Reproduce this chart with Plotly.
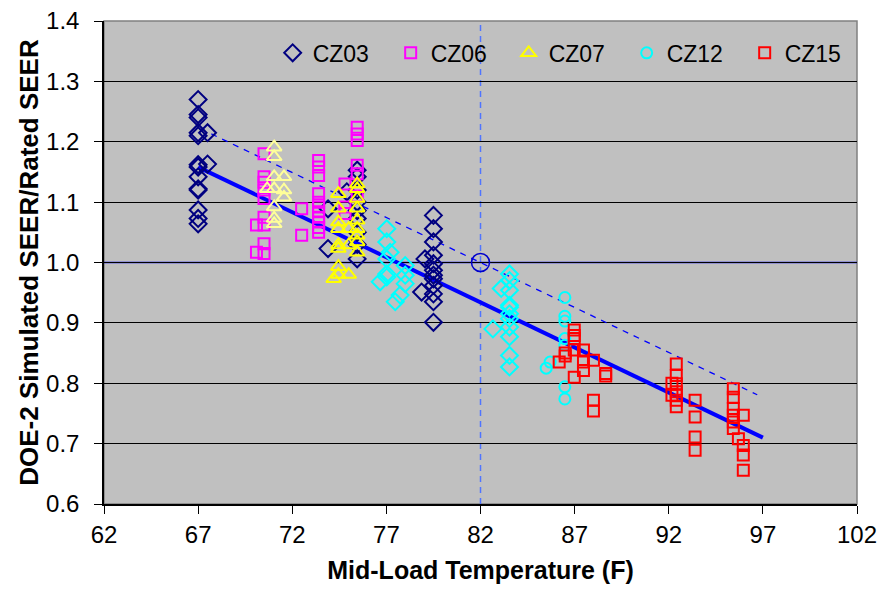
import plotly.graph_objects as go

# ---- data ----
cz03_x = [67]*13 + [67.5]*2 + [73.9]*2 + [74.9] + [75.45]*9 + [79.5]*12 + [79.05, 78.87]
cz03_y = [1.270, 1.245, 1.240, 1.215, 1.210, 1.162, 1.158, 1.142, 1.122, 1.120, 1.087, 1.073, 1.064,
          1.215, 1.163,
          1.089, 1.023,
          1.117,
          1.153, 1.142, 1.120, 1.100, 1.086, 1.073, 1.050, 1.030, 1.006,
          1.078, 1.056, 1.034, 1.012, 0.998, 0.987, 0.979, 0.973, 0.962, 0.948, 0.935, 0.901,
          1.006, 0.951]

cz06_x = [70.1]*2 + [70.5]*9 + [72.5]*2 + [73.4]*11 + [74.8]*3 + [75.45]*6
cz06_y = [1.062, 1.017,
          1.180, 1.142, 1.133, 1.120, 1.106, 1.075, 1.062, 1.031, 1.015,
          1.089, 1.045,
          1.169, 1.158, 1.144, 1.114, 1.100, 1.092, 1.084, 1.075, 1.067, 1.058, 1.050,
          1.130, 1.092, 1.081,
          1.224, 1.213, 1.202, 1.161, 1.147, 1.110]

cz07_x = [74.2] + [74.45]*8 + [75.0]*3 + [75.45]*9
cz07_y = [0.973,
          1.114, 1.090, 1.067, 1.056, 1.029, 1.023, 0.993, 0.980,
          1.056, 1.029, 0.980,
          1.130, 1.122, 1.106, 1.090, 1.070, 1.056, 1.045, 1.034, 1.017]

cz07b_x = [71.04]*7 + [71.56]*3 + [70.67]
cz07b_y = [1.191, 1.175, 1.142, 1.122, 1.092, 1.073, 1.064,
           1.142, 1.120, 1.108,
           1.122]

cz12d_x = [77.02]*5 + [77.2, 76.67] + [78.0]*3 + [77.73, 77.47] + [83.54]*11 + [83.1, 82.66]
cz12d_y = [1.056, 1.034, 1.006, 0.981, 0.976,
           1.017, 0.968,
           0.995, 0.979, 0.965,
           0.946, 0.935,
           0.981, 0.970, 0.954, 0.929, 0.926, 0.915, 0.907, 0.893, 0.877, 0.846, 0.827,
           0.957, 0.890]

cz12_x = [86.48]*7 + [85.49, 85.7]
cz12_y = [0.942, 0.911, 0.903, 0.874, 0.863, 0.794, 0.774, 0.825, 0.835]

cz15_x = ([86.98]*5 + [86.18] + [86.5]*2 + [87.47]*3 + [88.0]*3 + [88.65]*2 +
          [92.4]*7 + [92.17]*2 + [93.4]*4 + [95.43]*6 + [95.96]*4 + [95.7])
cz15_y = [0.888, 0.879, 0.874, 0.855, 0.810,
          0.835,
          0.850, 0.845,
          0.855, 0.835, 0.821,
          0.838, 0.772, 0.754,
          0.816, 0.812,
          0.832, 0.813, 0.799, 0.786, 0.780, 0.772, 0.761,
          0.800, 0.780,
          0.772, 0.744, 0.711, 0.689,
          0.791, 0.777, 0.758, 0.747, 0.736, 0.725,
          0.747, 0.697, 0.681, 0.656,
          0.708]

trend_x = [67.0, 97.0]
trend_y = [1.158, 0.710]
shift_x = [67.7, 96.7]
shift_y = [1.213, 0.781]
ref_x = [82]
ref_y = [1.0]

x_ticks = [62, 67, 72, 77, 82, 87, 92, 97, 102]
y_ticks = [0.6, 0.7, 0.8, 0.9, 1.0, 1.1, 1.2, 1.3, 1.4]

FONT = "Liberation Sans, Arial, sans-serif"

fig = go.Figure()

# trend lines
fig.add_trace(go.Scatter(x=trend_x, y=trend_y, mode="lines",
                         line=dict(color="#0000FF", width=4), showlegend=False, hoverinfo="skip"))
fig.add_trace(go.Scatter(x=shift_x, y=shift_y, mode="lines",
                         line=dict(color="#0000FF", width=1.3, dash="6px,6px"), showlegend=False,
                         hoverinfo="skip"))

def pts(name, xs, ys, symbol, color, size, legend=True):
    fig.add_trace(go.Scatter(x=xs, y=ys, mode="markers", name=name, showlegend=legend,
                             marker=dict(symbol=symbol, size=size, color=color,
                                         line=dict(color=color, width=2))))

pts("CZ03", cz03_x, cz03_y, "diamond-open", "#000080", 13)
pts("CZ06", cz06_x, cz06_y, "square-open", "#FF00FF", 11)
pts("CZ07", cz07_x, cz07_y, "triangle-up-open", "#FFFF00", 13)
pts("CZ07b", cz07b_x, cz07b_y, "triangle-up-open", "#FFFF99", 13, legend=False)
pts("CZ12", cz12_x, cz12_y, "circle-open", "#00FFFF", 11)
pts("CZ12b", cz12d_x, cz12d_y, "diamond-open", "#00FFFF", 13, legend=False)
pts("CZ15", cz15_x, cz15_y, "square-open", "#FF0000", 11)

# reference point
fig.add_trace(go.Scatter(x=ref_x, y=ref_y, mode="markers", showlegend=False,
                         marker=dict(symbol="circle-open", size=18, color="#0000CC",
                                     line=dict(color="#0000CC", width=1.5))))

fig.add_shape(type="line", xref="x", yref="y", x0=82, x1=82, y0=0.6, y1=1.4,
              line=dict(color="#4F74FF", width=1.5, dash="6px,5px"), layer="below")
fig.add_shape(type="line", xref="x", yref="y", x0=62, x1=102, y0=1.0, y1=1.0,
              line=dict(color="#0000FF", width=1.5), layer="below")
# top/right gray border
fig.add_shape(type="rect", xref="paper", yref="paper", x0=0, x1=1, y0=0, y1=1,
              line=dict(color="#808080", width=1.5), layer="below")

# the page body adds an 8px margin on each side, so the figure is 869x576
fig.update_layout(
    width=869, height=576,
    margin=dict(l=96, r=20, t=13, b=80),
    paper_bgcolor="white", plot_bgcolor="#C0C0C0",
    font=dict(family=FONT, size=24, color="black"),
    legend=dict(orientation="h", x=0.224, y=0.934, xanchor="left", yanchor="middle",
                bgcolor="rgba(0,0,0,0)", font=dict(size=23, family=FONT),
                entrywidth=73, entrywidthmode="pixels", itemclick=False),
    showlegend=True,
)
fig.update_xaxes(range=[62, 102], tickvals=x_ticks, ticktext=[str(v) for v in x_ticks],
                 showgrid=False, zeroline=False, showline=True, linecolor="black", linewidth=1.5,
                 ticks="outside", ticklen=8, tickcolor="black", automargin=False,
                 ticklabeloverflow="allow",
                 tickfont=dict(size=24, family=FONT),
                 title=dict(text="<b>Mid-Load Temperature (F)</b>", font=dict(size=25, family=FONT),
                            standoff=15))
fig.update_yaxes(range=[0.6, 1.4], tickvals=y_ticks, ticktext=[f"{v:.1f}" for v in y_ticks],
                 showgrid=True, gridcolor="black", gridwidth=1, zeroline=False,
                 showline=True, linecolor="black", linewidth=1.5,
                 ticks="outside", ticklen=8, tickcolor="black", automargin=False,
                 ticklabelstandoff=10, ticklabeloverflow="allow",
                 tickfont=dict(size=24, family=FONT),
                 title=dict(text="<b>DOE-2 Simulated SEER/Rated SEER</b>", font=dict(size=26, family=FONT),
                            standoff=0))

fig.write_html("out.html")
